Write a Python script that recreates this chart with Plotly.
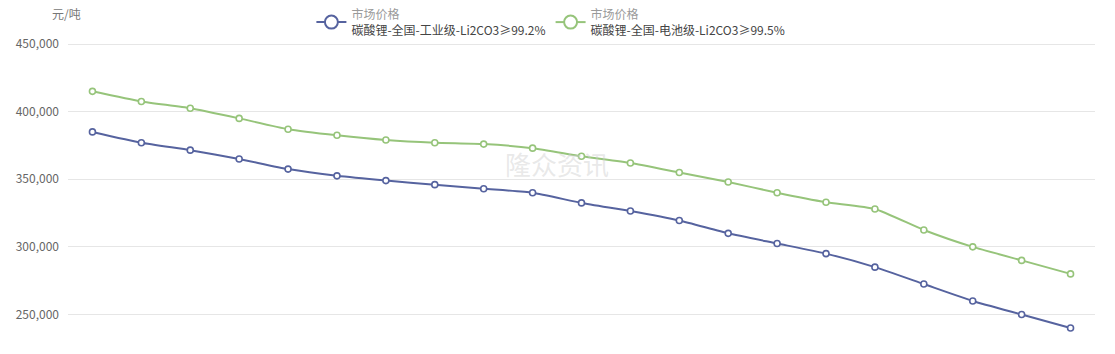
import plotly.graph_objects as go

# ---- data ----
x_index = list(range(21))
industrial = [385000, 377000, 371500, 365000, 357500, 352500, 349000, 346000, 343000, 340000,
              332500, 326500, 319500, 310000, 302500, 295000, 285000, 272500, 260000, 250000, 240000]
battery = [415000, 407500, 402500, 395000, 387000, 382500, 379000, 377000, 376000, 373000,
           367000, 362000, 355000, 348000, 340000, 333000, 328000, 312500, 300000, 290000, 280000]
series_top = "市场价格"
name_industrial = "碳酸锂-全国-工业级-Li2CO3≥99.2%"
name_battery = "碳酸锂-全国-电池级-Li2CO3≥99.5%"
y_ticks = [250000, 300000, 350000, 400000, 450000]
y_tick_text = ["250,000", "300,000", "350,000", "400,000", "450,000"]
unit = "元/吨"
watermark = "隆众资讯"

blue = "#56639f"
green = "#96c47a"
font_family = "Noto Sans CJK SC, Microsoft YaHei, sans-serif"

def legend_label(name):
    return f"<span style='color:#9a9a9a'>{series_top}</span><br><span style='color:#444'>{name}</span>"

fig = go.Figure()
for vals, col in [(industrial, blue), (battery, green)]:
    fig.add_trace(go.Scatter(
        x=x_index, y=vals, mode="lines+markers",
        line=dict(color=col, width=2, shape="spline", smoothing=0.5),
        marker=dict(symbol="circle", size=6, color="white", line=dict(color=col, width=1.6)),
        showlegend=False, hoverinfo="x+y",
    ))
for col, nm in [(blue, name_industrial), (green, name_battery)]:
    fig.add_trace(go.Scatter(
        x=[None], y=[None], mode="lines+markers", name=legend_label(nm),
        line=dict(color=col, width=2),
        marker=dict(symbol="circle", size=13, color="white", line=dict(color=col, width=2)),
        showlegend=True,
    ))

fig.add_annotation(
    text=watermark, x=0.476, y=0.608, xref="paper", yref="paper",
    showarrow=False, font=dict(size=26, color="rgba(205,205,205,0.45)", family=font_family),
)
fig.add_annotation(
    text=unit, x=-0.001, y=1.083, xref="paper", yref="paper", xanchor="center", yanchor="middle",
    showarrow=False, font=dict(size=12, color="#777", family=font_family),
)

fig.update_layout(
    width=1115, height=354,
    margin=dict(l=68, r=20, t=40, b=0, autoexpand=False),
    paper_bgcolor="white", plot_bgcolor="white",
    font=dict(family=font_family, size=12, color="#666"),
    showlegend=True,
    legend=dict(orientation="h", x=0.237, xanchor="left", y=1.0, yref="container",
                yanchor="top", font=dict(size=12), itemwidth=30,
                bgcolor="rgba(0,0,0,0)", tracegroupgap=0),
    xaxis=dict(range=[-0.5, 20.5], showgrid=False, showticklabels=False, zeroline=False,
               showline=False, ticks="", automargin=False),
    yaxis=dict(range=[220784, 452958], tickvals=y_ticks, ticktext=y_tick_text,
               showgrid=True, gridcolor="#e6e6e6", gridwidth=1, zeroline=False, automargin=False,
               showline=False, ticks="", tickfont=dict(size=12, color="#666"), ticklabelstandoff=8),
)

fig.write_html("out.html")
